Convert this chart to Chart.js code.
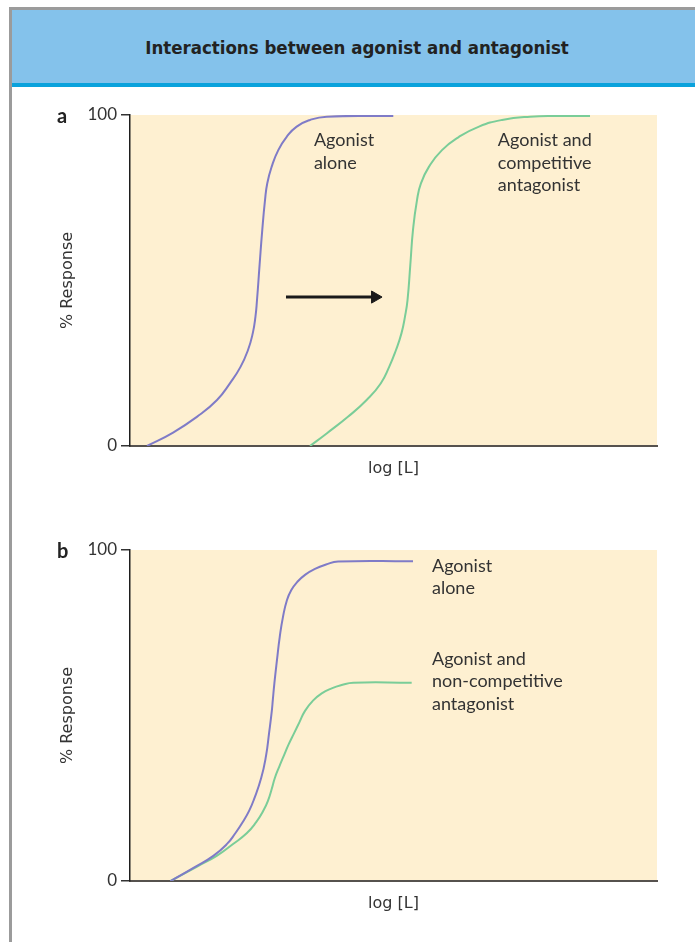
<!DOCTYPE html>
<html>
<head>
<meta charset="utf-8">
<script src="https://cdn.jsdelivr.net/npm/chart.js@4.4.1/dist/chart.umd.min.js"></script>
<style>
    body { margin: 0; background: #fff; width: 695px; height: 942px; overflow: hidden; position: relative; }
    #frameTop { position: absolute; left: 9px; top: 7px; width: 686px; height: 3px; background: #9b9b9b; }
    #frameLeft { position: absolute; left: 9px; top: 7px; width: 3px; height: 935px; background: #9b9b9b; }
    #header { position: absolute; left: 12px; top: 10px; width: 683px; height: 73px; background: #84c2eb; }
    #headerLine { position: absolute; left: 12px; top: 83px; width: 683px; height: 4px; background: #0aa2dc; }
    #title { position: absolute; left: 12px; width: 690px; top: 37px; line-height: 22px; text-align: center;
             font: bold 18.5px "DejaVu Sans Condensed", "DejaVu Sans"; color: #222; }
    .panel { position: absolute; left: 0; width: 695px; height: 410px; }
</style>
</head>
<body>
<div id="frameTop"></div>
<div id="frameLeft"></div>
<div id="header"></div>
<div id="headerLine"></div>
<div id="title">Interactions between agonist and antagonist</div>
<div class="panel" style="top:90px"><canvas id="chartA" width="695" height="410"></canvas></div>
<div class="panel" style="top:525px"><canvas id="chartB" width="695" height="410"></canvas></div>

<script>
// Valeurs (x : log [L] en unités arbitraires 0-100, y : % réponse)
const yTicks = [0, 100];
const xTitle = 'log [L]';
const yTitle = '% Response';

// Panneau a : antagoniste compétitif
const aAloneX = [3.23, 8.01, 12.69, 16.51, 18.99, 20.97, 22.39, 23.30, 23.80, 24.10, 24.59, 25.10, 25.62, 26.05, 26.89, 28.14, 29.73, 31.63, 34.16, 37.32, 49.96];
const aAloneY = [0, 3.9, 8.8, 13.9, 19.0, 23.9, 29.0, 34.1, 39.0, 44.1, 54.7, 65.3, 74.3, 79.4, 84.4, 89.4, 93.4, 96.5, 98.5, 99.5, 99.7];
const aCompX = [34.16, 37.32, 41.41, 44.90, 47.57, 49.20, 50.47, 51.52, 52.18, 52.66, 53.19, 53.70, 54.46, 55.22, 56.74, 59.20, 62.43, 66.22, 70.59, 75.90, 81.59, 87.29];
const aCompY = [0, 3.8, 8.9, 13.9, 18.9, 24.0, 29.0, 34.1, 39.1, 44.1, 54.7, 65.3, 74.3, 79.4, 84.4, 89.4, 93.4, 96.5, 98.5, 99.5, 99.7, 99.7];
const arrowX = [29.6, 46.5];
const arrowY = [45, 45];

// Panneau b : antagoniste non compétitif
const bAloneX = [7.70, 12.29, 15.81, 18.41, 20.02, 21.40, 22.60, 23.49, 24.89, 25.81, 26.39, 26.91, 27.10, 27.40, 27.89, 28.41, 29.03, 29.79, 30.61, 31.71, 33.21, 35.10, 37.19, 39.50, 53.70];
const bAloneY = [0, 4.2, 7.6, 11.2, 14.5, 17.8, 21.2, 24.5, 31.1, 37.8, 44.7, 51.4, 54.7, 59.8, 66.8, 73.7, 79.8, 84.9, 87.9, 90.3, 92.5, 94.3, 95.6, 96.5, 96.6];
const bNonCompX = [7.70, 12.66, 16.45, 19.49, 22.14, 23.91, 25.29, 26.24, 26.89, 27.50, 28.31, 29.20, 30.08, 31.12, 32.16, 33.21, 34.72, 36.38, 38.27, 40.17, 42.37, 53.45];
const bNonCompY = [0, 4.3, 7.6, 11.1, 14.4, 17.7, 21.2, 24.5, 27.8, 31.2, 34.5, 37.9, 41.2, 44.6, 48.0, 51.4, 54.5, 56.7, 58.2, 59.2, 59.9, 59.9];

const PURPLE = '#7f7bc7';
const GREEN = '#7acd98';

// Fonction pour assembler les points {x, y}
function toPoints(xs, ys) {
    return xs.map((x, i) => ({ x, y: ys[i] }));
}

function curve(xs, ys, color) {
    return {
        data: toPoints(xs, ys),
        borderColor: color,
        borderWidth: 2,
        pointRadius: 0,
        tension: 0.5,
        fill: false
    };
}

// Plugin : fond crème, lettre du panneau et étiquettes de courbes
const figurePlugin = {
    id: 'figure',
    beforeDraw(chart) {
        const { ctx, chartArea: a } = chart;
        ctx.save();
        ctx.fillStyle = '#fef0d1';
        ctx.fillRect(a.left, a.top, a.right - a.left, a.bottom - a.top);
        ctx.restore();
    },
    afterDraw(chart, args, opts) {
        const { ctx, scales } = chart;
        ctx.save();
        ctx.fillStyle = '#222';
        ctx.textBaseline = 'alphabetic';
        ctx.font = 'bold 20px Lato';
        ctx.fillText(opts.letter, 57, 33);
        ctx.fillStyle = '#333';
        ctx.font = '18px Lato';
        (opts.labels || []).forEach(l => {
            const px = scales.x.getPixelForValue(l.x);
            const py = scales.y.getPixelForValue(l.y);
            l.lines.forEach((line, i) => ctx.fillText(line, px, py + i * 22.6));
        });
        ctx.restore();
    }
};

function makeChart(id, datasets, letter, labels) {
    const ctx = document.getElementById(id).getContext('2d');
    return new Chart(ctx, {
        type: 'line',
        data: { datasets },
        plugins: [figurePlugin],
        options: {
            responsive: false,
            animation: false,
            events: [],
            layout: { padding: { top: 25, right: 38, left: 0, bottom: 0 } },
            plugins: {
                legend: { display: false },
                tooltip: { enabled: false },
                figure: { letter, labels }
            },
            scales: {
                x: {
                    type: 'linear', min: 0, max: 100,
                    afterFit: s => { s.height = 54; },
                    ticks: { display: false },
                    grid: { display: false },
                    border: { display: true, color: '#56524e', width: 2 },
                    title: { display: true, text: xTitle, color: '#333',
                             font: { family: 'DejaVu Sans', size: 16 }, padding: { top: 0, bottom: 22 } }
                },
                y: {
                    min: 0, max: 100,
                    afterFit: s => { s.width = 130; },
                    afterBuildTicks: s => { s.ticks = yTicks.map(v => ({ value: v })); },
                    ticks: { color: '#333', padding: 4, font: { family: 'Lato', size: 17 } },
                    grid: { drawOnChartArea: false, drawTicks: true, tickLength: 9, color: '#333', lineWidth: 1.5 },
                    border: { display: true, color: '#1e1e1e', width: 1.5 },
                    title: { display: true, text: yTitle, color: '#333',
                             font: { family: 'DejaVu Sans', size: 16 }, padding: { top: 58, bottom: 0 } }
                }
            }
        }
    });
}

document.addEventListener('DOMContentLoaded', () => {
    makeChart('chartA', [
        curve(aAloneX, aAloneY, PURPLE),
        curve(aCompX, aCompY, GREEN),
        {
            data: toPoints(arrowX, arrowY),
            borderColor: '#1a1a1a',
            backgroundColor: '#1a1a1a',
            borderWidth: 3,
            tension: 0,
            pointStyle: 'triangle',
            pointRotation: 90,
            pointRadius: [0, 7],
            pointBorderWidth: 1
        }
    ], 'a', [
        { x: 34.9, y: 90.6, lines: ['Agonist', 'alone'] },
        { x: 69.8, y: 90.6, lines: ['Agonist and', 'competitive', 'antagonist'] }
    ]);

    makeChart('chartB', [
        curve(bAloneX, bAloneY, PURPLE),
        curve(bNonCompX, bNonCompY, GREEN)
    ], 'b', [
        { x: 57.3, y: 93.4, lines: ['Agonist', 'alone'] },
        { x: 57.3, y: 65.3, lines: ['Agonist and', 'non-competitive', 'antagonist'] }
    ]);
});
</script>
</body>
</html>
